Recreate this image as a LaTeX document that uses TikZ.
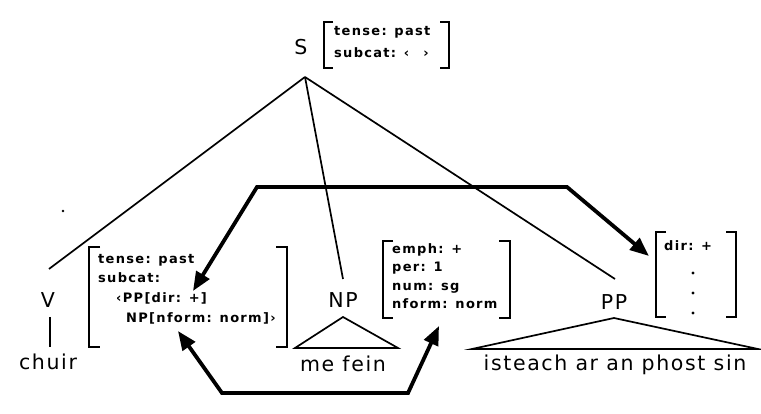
\documentclass[tikz,border=0pt]{standalone}
\usepackage{fontspec}
\setmainfont{DejaVu Sans}
\usetikzlibrary{arrows.meta}
\begin{document}
\begin{tikzpicture}[x=1pt,y=-1pt,
  lab/.style={font=\addfontfeature{LetterSpace=8}\fontsize{20.5}{22}\selectfont, inner sep=0pt},
  feat/.style={font=\addfontfeature{LetterSpace=10}\bfseries\fontsize{13}{19.6}\selectfont, align=left, inner sep=0pt, anchor=north west},
  tree/.style={line width=1.7pt},
  brk/.style={line width=1.8pt},
  dotm/.style={inner sep=1.2pt, circle, fill=black},
  fat/.style={line width=3.8pt, line join=miter}]
\useasboundingbox (0,0) rectangle (761,414);
\fill[white] (0,0) rectangle (761,414);

% labels
\node[lab] (S) at (301,47) {S};
\node[lab] (V) at (48,300) {V};
\node[lab] (chuir) at (48,362) {chuir};
\node[lab] (NP) at (343,300) {NP};
\node[lab] (mefein) at (343,364) {me fein};
\node[lab] (PP) at (614,302) {PP};
\node[lab] (isteach) at (615,365) {isteach ar an phost sin};

% feature structures
\node[feat, font=\addfontfeature{LetterSpace=10}\bfseries\fontsize{13}{22}\selectfont] (Sf) at (334,26) {tense: past\\subcat: ‹\hspace{14pt}›};
\draw[brk] (333,22) -- (324,22) -- (324,68) -- (333,68);
\draw[brk] (440,22) -- (449,22) -- (449,68) -- (440,68);

\node[feat] (Vf) at (98,254) {tense: past\\subcat:\\\hspace*{18pt}‹PP[dir: +]\\\hspace*{28pt}NP[nform: norm]›};
\draw[brk] (100,247) -- (89,247) -- (89,347) -- (100,347);
\draw[brk] (276,247) -- (287,247) -- (287,347) -- (276,347);

\node[feat, font=\addfontfeature{LetterSpace=10}\bfseries\fontsize{13}{18.6}\selectfont] (NPf) at (392,243) {emph: +\\per: 1\\num: sg\\nform: norm};
\draw[brk] (393,241) -- (383,241) -- (383,318) -- (393,318);
\draw[brk] (499,241) -- (510,241) -- (510,318) -- (499,318);

\node[feat] (PPf) at (664,240) {dir: +};
\node[dotm] (d1) at (693,273) {};
\node[dotm] (d2) at (693,293) {};
\node[dotm] (d3) at (693,313) {};
\draw[brk] (666,232) -- (656,232) -- (656,317) -- (666,317);
\draw[brk] (726,232) -- (736,232) -- (736,317) -- (726,317);

% tree lines
\coordinate (apex) at (305,77);
\coordinate (Vtop) at (49,269);
\coordinate (NPtop) at (343,279);
\coordinate (PPtop) at (615,279);
\draw[tree] (apex) -- (Vtop);
\draw[tree] (apex) -- (NPtop);
\draw[tree] (apex) -- (PPtop);
\coordinate (Vl1) at (50,317);
\coordinate (Vl2) at (50,347);
\draw[tree] (Vl1) -- (Vl2);

% triangles
\draw[tree, line join=miter] (295,348) -- (343,317) -- (398,348) -- cycle;
\draw[tree, line join=miter] (472,349) -- (614,318) -- (758,349) -- cycle;

% thick arrows
\coordinate (tl) at (257,187);
\coordinate (tr) at (567,187);
\coordinate (tipV) at (193,291);
\coordinate (tipPP) at (649,256);
\draw[fat, {Triangle[length=19pt,width=15pt]}-{Triangle[length=19pt,width=15pt]}] (tipV) -- (tl) -- (tr) -- (tipPP);

\coordinate (bl) at (222,393);
\coordinate (br) at (408,393);
\coordinate (tipNPa) at (178,331);
\coordinate (tipNPb) at (439,326);
\draw[fat, {Triangle[length=19pt,width=15pt]}-{Triangle[length=19pt,width=15pt]}] (tipNPa) -- (bl) -- (br) -- (tipNPb);

% stray dot
\node[inner sep=1pt, circle, fill=black] (dot) at (63,211) {};
\end{tikzpicture}
\end{document}
